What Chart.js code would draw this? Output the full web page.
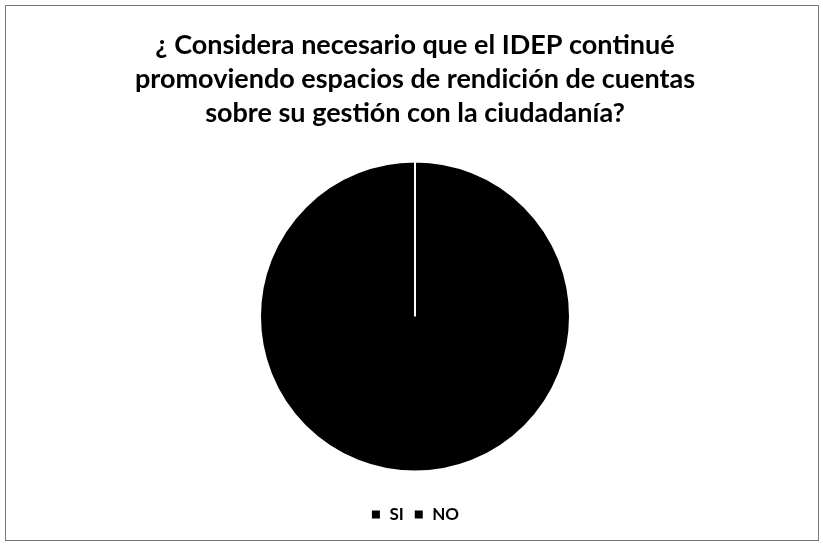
<!DOCTYPE html>
<html>
<head>
<meta charset="utf-8">
<script src="https://cdn.jsdelivr.net/npm/chart.js@4"></script>
<style>
  body { margin: 0; background: #fff; }
  #frame { position: absolute; left: 5px; top: 5px; width: 812px; height: 534px; border: 1px solid #777; }
</style>
</head>
<body>
<div id="frame"><canvas id="chart"></canvas></div>
<script>
// Data
const labels = ["SI", "NO"];
const values = [100, 0];
const colors = ["#000000", "#000000"];
const titleLines = [
  "¿ Considera necesario que el IDEP continué",
  "promoviendo espacios de rendición de cuentas",
  "sobre su gestión con la ciudadanía?"
];

new Chart(document.getElementById("chart"), {
  type: "pie",
  data: {
    labels: labels,
    datasets: [{ data: values, backgroundColor: colors, borderColor: "#ffffff", borderWidth: 2 }]
  },
  options: {
    responsive: true,
    maintainAspectRatio: false,
    animation: false,
    radius: 155,
    layout: { padding: { left: 6, bottom: 7 } },
    plugins: {
      title: {
        display: true,
        text: titleLines,
        color: "#000",
        font: { family: "Lato", size: 27, weight: "bold", lineHeight: 1.26 },
        padding: { top: 22, bottom: 7 }
      },
      legend: {
        position: "bottom",
        labels: {
          color: "#000",
          font: { family: "Lato", size: 17, weight: "bold" },
          boxWidth: 10,
          boxHeight: 10,
          padding: 10
        }
      },
      tooltip: { enabled: false }
    }
  }
});
</script>
</body>
</html>
